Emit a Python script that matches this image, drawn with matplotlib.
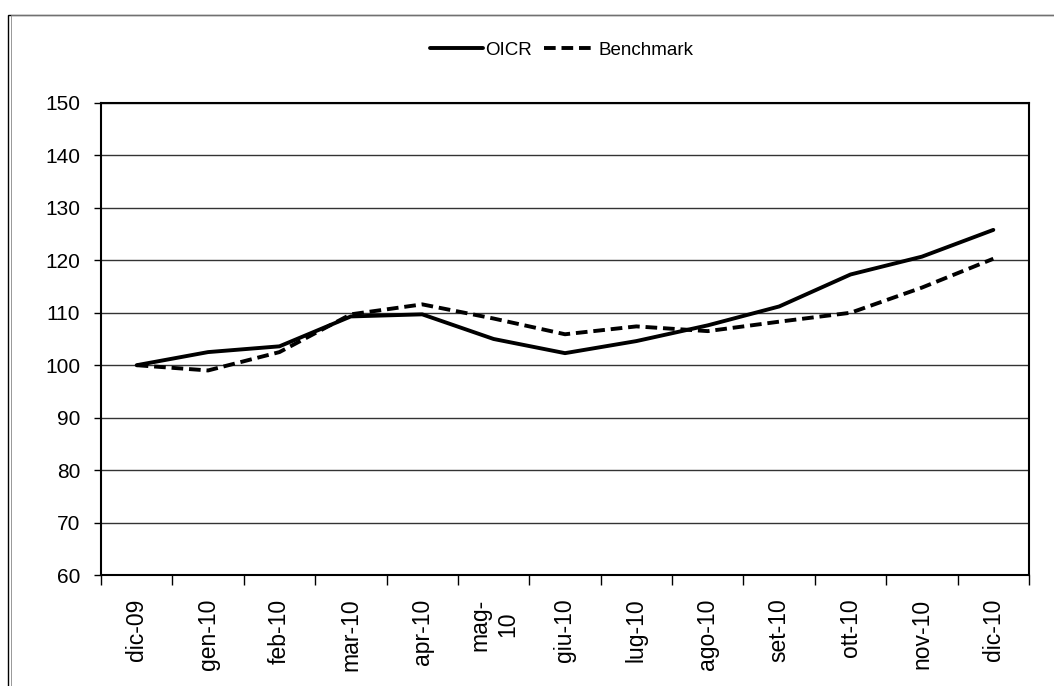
import matplotlib.pyplot as plt
import matplotlib.patches as patches
import numpy as np

plt.rcParams['font.family'] = ['Liberation Sans', 'DejaVu Sans']

# data
mesi = ["dic-09", "gen-10", "feb-10", "mar-10", "apr-10", "mag-\n10", "giu-10",
        "lug-10", "ago-10", "set-10", "ott-10", "nov-10", "dic-10"]
oicr = [100.0, 102.5, 103.6, 109.3, 109.7, 105.0, 102.3, 104.6, 107.6, 111.2, 117.3, 120.7, 125.8]
benchmark = [100.0, 99.0, 102.5, 109.7, 111.6, 108.9, 105.9, 107.4, 106.5, 108.3, 110.0, 114.8, 120.3]

fig = plt.figure(figsize=(10.54, 6.86), dpi=100)
ax = fig.add_axes([0.0958, 0.1618, 0.8805, 0.6881])

# outer frame (double line, cut off right/bottom like the original)
fig.patches.append(patches.Rectangle((8/1054, -0.05), 1.2, 1 - 15/686 + 0.05,
                                     transform=fig.transFigure, fill=False,
                                     edgecolor='black', lw=1.0))
fig.patches.append(patches.Rectangle((11/1054, -0.05), 1.2, 1 - 15/686 + 0.05,
                                     transform=fig.transFigure, fill=False,
                                     edgecolor='#888888', lw=0.6))

x = np.arange(len(mesi))
ax.plot(x, oicr, color='black', lw=2.8, label='OICR', solid_capstyle='round')
ax.plot(x, benchmark, color='black', lw=2.8, ls=(0, (3, 1.5)), label='Benchmark')

ax.set_ylim(60, 150)
ax.set_yticks(np.arange(60, 151, 10))
ax.set_xlim(-0.5, len(mesi) - 0.5)
ax.yaxis.grid(True, color='#333333', lw=1.0)
ax.set_axisbelow(True)

ax.set_xticks(x)
ax.set_xticklabels(mesi, rotation=90, multialignment='center', fontsize=16.5,
                   linespacing=1.25)
ax.set_xticks(np.arange(-0.5, len(mesi)), minor=True)
ax.tick_params(axis='x', which='major', length=0, pad=17)
ax.tick_params(axis='x', which='minor', length=7, width=1)
ax.tick_params(axis='y', length=5, width=1, labelsize=15, pad=10)

for s in ax.spines.values():
    s.set_linewidth(1.5)
    s.set_color('black')

leg = fig.legend(loc='center', bbox_to_anchor=(562/1054, 1 - 50/686), ncol=2,
                 frameon=False, fontsize=13.5, handlelength=2.8,
                 handletextpad=0.15, columnspacing=0.6)

fig.savefig('out.png', dpi=100)
